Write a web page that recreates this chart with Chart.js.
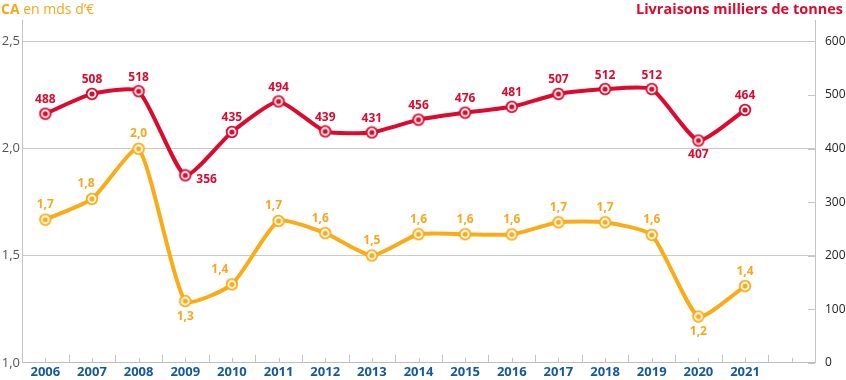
<!DOCTYPE html>
<html><head><meta charset="utf-8">
<script src="https://cdn.jsdelivr.net/npm/chart.js@4.4.1/dist/chart.umd.min.js"></script>
<style>html,body{margin:0;padding:0;background:#fff}#wrap{width:846px;height:380px;position:relative}</style>
</head><body><div id="wrap"><canvas id="c" width="846" height="380"></canvas></div>
<script>
// ---- data ----
const years = ['2006','2007','2008','2009','2010','2011','2012','2013','2014','2015','2016','2017','2018','2019','2020','2021',''];
const chiffreAffaires = [1.668,1.765,1.999,1.288,1.366,1.662,1.605,1.501,1.600,1.600,1.599,1.656,1.656,1.597,1.216,1.358];
const livraisons = [465,502,507,350,431,488,432,430,454,467,478,502,511,511,415,472];
const livraisonsLabels = ['488','508','518','356','435','494','439','431','456','476','481','507','512','512','407','464'];
const caTicks = [1.0,1.5,2.0,2.5];
const livTicks = [0,100,200,300,400,500,600];
const titleLeftBold = 'CA';
const titleLeftRest = ' en mds d\u2019\u20ac';
const titleRight = 'Livraisons milliers de tonnes';

// ---- styles ----
const RED = '#dc0a2e';
const ORANGE = '#f9ac17';
const ORANGE_TXT = '#f7a71c';
const FONT = "'Open Sans', 'DejaVu Sans', sans-serif";

function makeMarker(color){
  const c = document.createElement('canvas');
  c.width = 14; c.height = 14;
  const g = c.getContext('2d');
  g.fillStyle = color; g.beginPath(); g.arc(7,7,6.2,0,Math.PI*2); g.fill();
  g.fillStyle = '#fff'; g.beginPath(); g.arc(7,7,4.4,0,Math.PI*2); g.fill();
  g.fillStyle = color; g.beginPath(); g.arc(7,7,2.6,0,Math.PI*2); g.fill();
  return c;
}

const fmtCA = v => v.toFixed(1).replace('.', ',');

const valueLabels = {
  id: 'valueLabels',
  afterDatasetsDraw(chart){
    const ctx = chart.ctx;
    chart.data.datasets.forEach((ds, di) => {
      const meta = chart.getDatasetMeta(di);
      ctx.save();
      ctx.font = 'bold 12px ' + FONT;
      ctx.fillStyle = ds.labelColor;
      ctx.textBaseline = 'middle';
      meta.data.forEach((pt, i) => {
        const text = ds.labelText(i);
        const place = (ds.labelPlace && ds.labelPlace[i]) || {};
        const mode = place.mode || 'above';
        let x = pt.x + (place.dx || 0), y = pt.y;
        if (mode === 'above') { ctx.textAlign = 'center'; y -= ds.labelGap; }
        else if (mode === 'below') { ctx.textAlign = 'center'; y += ds.labelGap; }
        else if (mode === 'right') { ctx.textAlign = 'left'; x += 11; y += 4; }
        ctx.fillText(text, x, y);
      });
      ctx.restore();
    });
  }
};

const axisDecor = {
  id: 'axisDecor',
  afterDraw(chart){
    const ctx = chart.ctx;
    const xs = chart.scales.x, y1 = chart.scales.y1;
    const bottom = chart.chartArea.bottom, right = chart.chartArea.right;
    ctx.save();
    ctx.strokeStyle = '#c4c4c4';
    ctx.lineWidth = 1;
    const n = years.length;
    const w = xs.getPixelForValue(1) - xs.getPixelForValue(0);
    for (let i = 0; i < n; i++){
      const cx = Math.round(xs.getPixelForValue(i)) + 0.5;
      ctx.beginPath(); ctx.moveTo(cx, bottom); ctx.lineTo(cx, bottom - 5); ctx.stroke();
      if (i > 0){
        const bx = Math.round(xs.getPixelForValue(i) - w/2) + 0.5;
        ctx.beginPath(); ctx.moveTo(bx, bottom); ctx.lineTo(bx, bottom - 8); ctx.stroke();
      }
    }
    livTicks.forEach(v => {
      const py = Math.round(y1.getPixelForValue(v)) + 0.5;
      ctx.beginPath(); ctx.moveTo(right, py); ctx.lineTo(right - 7, py); ctx.stroke();
    });
    // titles
    ctx.textBaseline = 'alphabetic';
    ctx.textAlign = 'left';
    ctx.fillStyle = ORANGE_TXT;
    ctx.font = 'bold 14px ' + FONT;
    ctx.fillText(titleLeftBold, 1, 14);
    const wb = ctx.measureText(titleLeftBold).width;
    ctx.font = '14px ' + FONT;
    ctx.fillText(titleLeftRest, 1 + wb, 14);
    ctx.textAlign = 'right';
    ctx.fillStyle = RED;
    ctx.font = 'bold 14.5px ' + FONT;
    ctx.fillText(titleRight, chart.width - 3, 14);
    ctx.restore();
  }
};

new Chart(document.getElementById('c'), {
  type: 'line',
  data: {
    labels: years,
    datasets: [
      {
        label: 'CA',
        data: chiffreAffaires,
        yAxisID: 'y',
        borderColor: ORANGE,
        borderWidth: 4,
        tension: 0.18,
        pointStyle: makeMarker(ORANGE),
        pointRadius: 6,
        labelColor: ORANGE_TXT,
        labelGap: 15,
        labelText: i => fmtCA(chiffreAffaires[i]),
        labelPlace: {1:{dx:-6}, 3:{mode:'below'}, 4:{dx:-12}, 5:{dx:-5}, 6:{dx:-5}, 14:{mode:'below'}}
      },
      {
        label: 'Livraisons',
        data: livraisons,
        yAxisID: 'y1',
        borderColor: RED,
        borderWidth: 4,
        tension: 0.18,
        pointStyle: makeMarker(RED),
        pointRadius: 6,
        labelColor: RED,
        labelGap: 14,
        labelText: i => livraisonsLabels[i],
        labelPlace: {3:{mode:'right'}, 14:{mode:'below'}}
      }
    ]
  },
  options: {
    responsive: false,
    devicePixelRatio: 1,
    animation: false,
    layout: { padding: { top: 20, left: 0, right: 0, bottom: 0 } },
    plugins: { legend: { display: false }, tooltip: { enabled: false }, title: { display: false } },
    scales: {
      x: {
        type: 'category',
        offset: true,
        grid: { display: false, drawTicks: false },
        border: { display: true, color: '#bdbdbd', width: 1 },
        ticks: { color: '#15599a', font: { family: FONT, size: 13, weight: 'bold' }, padding: 2, maxRotation: 0, autoSkip: false },
        afterFit(s){ s.height = 15; }
      },
      y: {
        position: 'left',
        min: 1, max: 2.6,
        afterBuildTicks(s){ s.ticks = caTicks.map(v => ({ value: v })); },
        grid: { color: '#cacaca', drawTicks: false },
        border: { color: '#c4c4c4' },
        ticks: { color: '#555', font: { family: FONT, size: 13 }, padding: 2, callback: v => fmtCA(v) },
        afterFit(s){ s.width = 22; }
      },
      y1: {
        position: 'right',
        min: 0, max: 640,
        afterBuildTicks(s){ s.ticks = livTicks.map(v => ({ value: v })); },
        grid: { display: false, drawTicks: false },
        border: { color: '#c4c4c4' },
        ticks: { color: '#222', font: { family: FONT, size: 12 }, padding: 10 },
        afterFit(s){ s.width = 31; }
      }
    }
  },
  plugins: [valueLabels, axisDecor]
});
</script>
</body></html>
